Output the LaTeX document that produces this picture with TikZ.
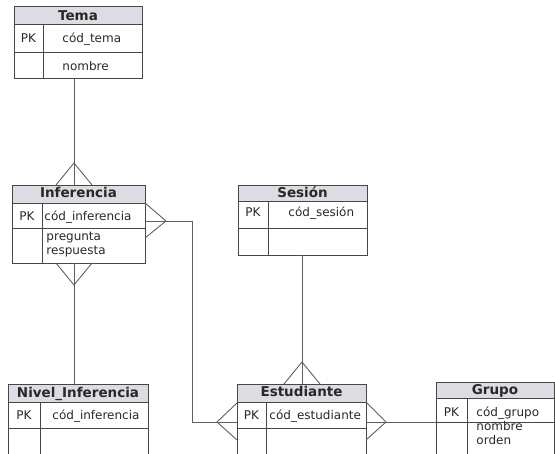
\documentclass[tikz,border=0pt]{standalone}
\usepackage{fontspec}
\setmainfont{DejaVu Sans}
\definecolor{boxgray}{RGB}{70,70,70}
\definecolor{linegray}{RGB}{95,95,95}
\definecolor{headfill}{RGB}{220,220,226}
\definecolor{txt}{RGB}{40,40,40}
% entity table: x1, y1, x2, y2, header bottom, first row bottom, key column divider
\newcommand\erbox[7]{%
  \fill[headfill] (#1,#2) rectangle (#3,#5);
  \draw[boxgray] (#1,#2) rectangle (#3,#4);
  \draw[boxgray] (#1,#5) -- (#3,#5) (#1,#6) -- (#3,#6) (#7,#5) -- (#7,#4);
}
\begin{document}
\begin{tikzpicture}[x=1pt,y=-1pt,line width=0.9pt,
  title/.style={font=\bfseries\fontsize{13.5}{15}\selectfont,anchor=base,inner sep=0pt,text=txt},
  attr/.style={font=\fontsize{12}{14}\selectfont,anchor=base west,inner sep=0pt,text=txt},
  pk/.style={font=\fontsize{12}{14}\selectfont,anchor=base,inner sep=0pt,text=txt},
  conn/.style={draw=linegray,line width=0.9pt}]
\useasboundingbox (0,0) rectangle (555,454);
\clip (0,0) rectangle (555,454);

% tables
\erbox{14}{6}{142}{78}{24}{52}{43}
\node[title] (tema) at (78,21) {Tema};
\node[pk] (tema-pk) at (28.5,43) {PK};
\node[attr] (tema-a1) at (62,43) {cód\_tema};
\node[attr] (tema-a2) at (62,71) {nombre};

\erbox{12}{185}{145}{263}{203}{228}{42}
\node[title] (inf) at (78.5,198) {Inferencia};
\node[pk] (inf-pk) at (27,221) {PK};
\node[attr] (inf-a1) at (44,221) {cód\_inferencia};
\node[attr] (inf-a2) at (46,241) {pregunta};
\node[attr] (inf-a3) at (46,255) {respuesta};

\erbox{238}{185}{367}{255}{201}{228}{268}
\node[title] (ses) at (302.5,198) {Sesión};
\node[pk] (ses-pk) at (253,217) {PK};
\node[attr] (ses-a1) at (288,217) {cód\_sesión};

\erbox{8}{384}{148}{470}{402}{428}{40}
\node[title] (niv) at (78,398) {Nivel\_Inferencia};
\node[pk] (niv-pk) at (24,420) {PK};
\node[attr] (niv-a1) at (52,420) {cód\_inferencia};

\erbox{237}{384}{366}{470}{402}{428}{266}
\node[title] (est) at (301.5,397) {Estudiante};
\node[pk] (est-pk) at (251.5,420) {PK};
\node[attr] (est-a1) at (269,420) {cód\_estudiante};

\erbox{436}{382}{554}{470}{398}{422}{467}
\node[title] (gru) at (495,395) {Grupo};
\node[pk] (gru-pk) at (451.5,416.5) {PK};
\node[attr] (gru-a1) at (476,416.5) {cód\_grupo};
\node[attr] (gru-a2) at (476,431) {nombre};
\node[attr] (gru-a3) at (476,445) {orden};

% connector end points
\coordinate (tema-s) at (74,78);
\coordinate (inf-n) at (74,185);
\coordinate (inf-s) at (74,263);
\coordinate (inf-e) at (145,221);
\coordinate (bend1) at (192,221);
\coordinate (bend2) at (192,422);
\coordinate (niv-n) at (74,384);
\coordinate (ses-s) at (302,255);
\coordinate (est-n) at (302,384);
\coordinate (est-w) at (237,422);
\coordinate (est-e) at (366,422);
\coordinate (gru-w) at (436,422);

% relationships (shifts are in page direction: positive yshift is up)
\draw[conn] (tema-s) -- (inf-n);
\draw[conn] ([xshift=-18pt]inf-n) -- ([yshift=22pt]inf-n) -- ([xshift=18pt]inf-n);

\draw[conn] (inf-s) -- (niv-n);
\draw[conn] ([xshift=-18pt]inf-s) -- ([yshift=-22pt]inf-s) -- ([xshift=18pt]inf-s);

\draw[conn] (inf-e) -- (bend1) -- (bend2) -- (est-w);
\draw[conn] ([yshift=18pt]inf-e) -- ([xshift=21pt]inf-e) -- ([yshift=-17pt]inf-e);
\draw[conn] ([yshift=19pt]est-w) -- ([xshift=-20pt]est-w) -- ([yshift=-18pt]est-w);

\draw[conn] (ses-s) -- (est-n);
\draw[conn] ([xshift=-18pt]est-n) -- ([yshift=22pt]est-n) -- ([xshift=18pt]est-n);

\draw[conn] (est-e) -- (gru-w);
\draw[conn] ([yshift=20pt]est-e) -- ([xshift=20pt]est-e) -- ([yshift=-18pt]est-e);
\end{tikzpicture}
\end{document}
